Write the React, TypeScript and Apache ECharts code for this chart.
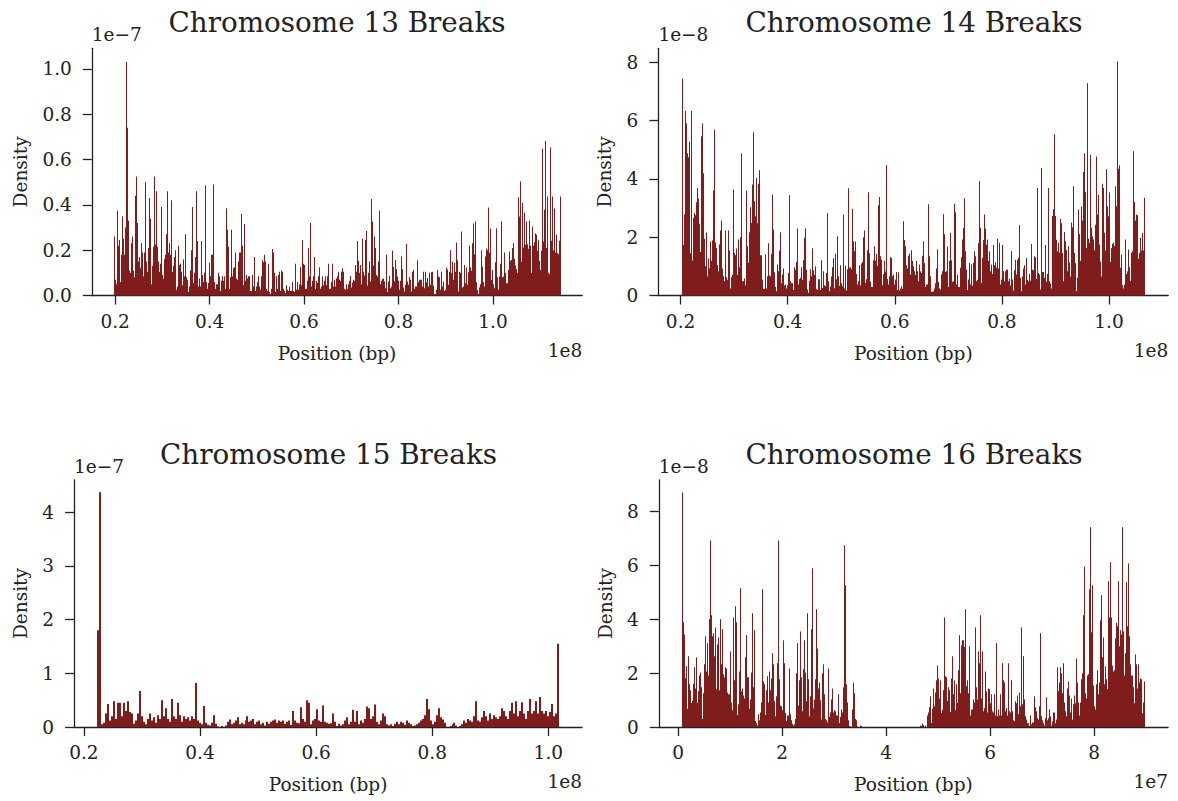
import React, { useEffect, useRef } from "react";
import * as echarts from "echarts";

// ---------------- data (positions in units of the x multiplier, densities in units of the y multiplier) ----------------
const titles = ["Chromosome 13 Breaks", "Chromosome 14 Breaks", "Chromosome 15 Breaks", "Chromosome 16 Breaks"];
const yMultiplierLabels = ["1e\u22127", "1e\u22128", "1e\u22127", "1e\u22128"];
const xMultiplierLabels = ["1e8", "1e8", "1e8", "1e7"];

const chr13Span = [0.1975, 1.1445]; // x 1e8 bp
const chr13Density = [ // x 1e-7
  0.26,0.07,0.05,0.375,0.22,0.245,0.06,0.18,0.35,0.25,0.18,0.3,1.03,0.74,0.33,0.11,0.10,0.23,0.26,0.11,
  0.08,0.44,0.525,0.32,0.15,0.17,0.12,0.23,0.19,0.085,0.19,0.5,0.15,0.105,0.21,0.43,0.34,0.05,0.13,0.215,
  0.525,0.225,0.46,0.215,0.15,0.105,0.14,0.39,0.09,0.075,0.16,0.18,0.27,0.46,0.19,0.23,0.18,0.42,0.105,0.13,
  0.17,0.2,0.025,0.04,0.22,0.135,0.14,0.105,0.045,0.16,0.085,0.27,0.08,0.07,0.015,0.04,0.11,0.2,0.39,0.055,
  0.1,0.17,0.46,0.24,0.04,0.075,0.04,0.24,0.09,0.06,0.1,0.485,0.06,0.03,0.055,0.145,0.085,0.18,0.18,0.49,
  0.06,0.03,0.05,0.1,0.085,0.02,0.065,0.085,0.065,0.085,0.03,0.385,0.29,0.215,0.03,0.08,0.29,0.085,0.12,0.125,
  0.19,0.075,0.07,0.15,0.19,0.19,0.36,0.22,0.045,0.315,0.065,0.09,0.075,0.085,0.085,0.02,0.02,0.09,0.04,0.17,
  0.02,0.04,0.06,0.085,0.04,0.025,0.085,0.155,0.147,0.18,0.15,0.03,0.02,0.14,0.015,0.007,0.03,0.205,0.19,0.1,
  0.015,0.085,0.03,0.09,0.105,0.02,0.11,0.105,0.03,0.02,0.01,0.045,0.025,0.02,0.04,0.02,0.02,0.06,0.02,0.015,
  0.14,0.025,0.06,0.025,0.05,0.125,0.045,0.245,0.14,0.135,0.03,0.03,0.065,0.21,0.085,0.32,0.04,0.065,0.085,0.17,
  0.03,0.065,0.055,0.085,0.125,0.03,0.04,0.085,0.045,0.065,0.085,0.045,0.085,0.14,0.03,0.03,0.06,0.14,0.04,0.07,
  0.04,0.075,0.085,0.105,0.07,
  0.065,0.105,0.12,0.105,0.03,0.025,0.05,0.03,0.05,0.065,0.087,0.035,0.057,0.07,0.065,0.135,0.105,0.24,0.153,0.1,
  0.135,0.05,0.25,0.105,0.088,0.245,0.285,0.044,0.1,0.15,0.062,0.426,0.326,0.132,0.26,0.21,0.09,0.084,0.15,0.375,
  0.05,0.065,0.074,0.074,0.062,0.032,0.18,0.015,0.062,0.087,0.032,0.04,0.197,0.126,0.062,0.157,0.116,0.084,0.065,0.025,
  0.065,0.172,0.116,0.035,0.018,0.047,0.228,0.062,0.047,0.082,0.07,0.018,0.105,0.113,0.03,0.04,0.04,0.155,0.059,0.07,
  0.07,0.04,0.105,0.032,0.105,0.059,0.077,0.04,0.1,0.047,0.103,0.105,0.043,0.007,0.007,0.025,0.112,0.084,0.08,0.025,
  0.105,0.04,0.062,0.02,0.025,0.124,0.115,0.047,0.105,0.2,0.1,0.15,0.07,0.143,0.105,0.234,0.155,0.018,0.105,0.1,
  0.282,0.035,0.04,0.135,0.054,0.124,0.047,0.103,0.22,0.124,0.109,0.23,0.318,0.182,0.326,0.059,0.024,0.007,0.035,0.05,
  0.2,0.128,0.059,0.04,0.172,0.207,0.2,0.388,0.187,0.296,0.068,0.113,0.05,0.032,0.147,0.297,0.08,0.025,0.084,0.14,
  0.326,0.08,0.084,0.19,0.1,0.054,0.054,0.113,0.194,0.153,0.157,0.209,0.232,0.162,0.132,0.116,0.1,0.432,0.348,0.503,
  0.15,0.409,0.212,0.365,0.224,0.326,0.226,0.206,0.331,0.22,0.1,0.304,0.22,0.235,0.275,0.268,0.197,0.244,0.153,0.113,
  0.197,0.647,0.238,0.378,0.682,0.209,0.437,0.1,0.094,0.653,0.241,0.437,0.2,0.384,0.19,0.268,0.187,0.182,0.241,0.437
];

const chr14Span = [0.2019, 1.0673]; // x 1e8 bp
const chr14Density = [ // x 1e-8
  7.44,1.73,2.78,6.34,5.9,4.88,4.74,5.27,1.45,6.34,1.2,2.66,2.83,2.75,3.2,3.69,3.33,2.46,1.49,5.46,
  5.9,4.19,1.95,1.0,2.16,0.66,1.27,0.93,1.85,1.18,1.89,3.6,5.69,1.82,1.63,1.04,0.83,1.75,2.23,2.57,
  0.93,0.66,0.49,2.23,0.63,0.54,2.23,1.54,0.24,0.63,0.7,3.63,1.46,1.38,1.61,0.7,1.92,0.97,2.0,4.87,
  0.49,0.49,0.58,0.35,3.6,1.69,1.12,2.17,3.03,2.49,3.81,5.6,3.23,2.72,4.03,2.48,3.83,4.3,1.38,1.38,
  0.54,0.23,0.23,1.41,0.24,0.66,1.79,0.69,0.66,1.43,3.46,2.26,0.8,0.29,0.15,1.06,0.83,1.54,2.17,0.42,
  0.72,0.93,0.34,0.38,0.24,0.35,0.77,3.44,0.49,0.42,0.42,0.19,0.97,0.88,1.15,2.3,0.38,0.57,0.61,0.97,
  0.54,1.21,1.98,2.31,0.88,0.21,0.09,0.51,0.9,0.66,1.62,0.87,0.7,1.0,0.23,0.19,0.56,0.56,0.19,1.21,
  0.26,0.83,0.35,0.32,0.77,2.82,0.49,0.15,0.31,0.65,0.97,1.28,0.25,1.43,0.56,2.03,0.66,0.33,1.04,0.42,
  0.32,2.78,0.24,1.03,0.17,0.9,3.68,0.95,0.97,0.9,2.98,1.86,1.52,1.85,0.74,0.38,0.49,1.04,0.34,1.1,
  1.15,2.0,2.23,0.43,0.56,1.55,3.54,1.45,0.47,0.29,0.29,1.21,1.69,1.18,1.42,1.02,3.1,3.38,1.35,1.23,
  0.35,0.73,1.19,0.82,4.47,0.57,0.38,0.66,1.31,1.29,0.66,0.72,0.38,0.55,0.81,0.19,0.8,0.17,0.24,0.32,
  0.23,2.55,1.9,1.69,1.04,0.93,1.36,1.44,0.72,1.55,1.18,1.0,0.83,
  0.7,1.18,0.83,0.49,1.06,0.83,0.77,1.36,1.86,1.11,0.29,0.38,0.38,3.13,1.35,0.66,0.13,0.13,0.15,0.24,
  0.42,0.93,1.59,0.46,0.24,0.21,0.72,0.83,2.79,2.1,0.81,0.83,1.68,0.29,1.18,2.15,1.21,0.47,0.49,3.15,
  2.86,0.38,0.72,0.29,0.29,0.95,1.31,1.92,2.31,3.34,1.52,0.89,0.19,0.55,1.12,0.38,1.06,0.33,1.12,1.52,
  1.35,0.49,0.54,1.79,3.92,2.32,0.43,1.29,1.9,2.78,2.3,1.74,1.92,1.18,1.51,0.83,1.06,0.74,1.73,1.04,
  1.14,0.95,1.95,0.93,1.81,0.38,0.55,1.73,0.83,0.49,0.83,0.88,0.89,0.49,0.58,0.34,1.52,0.55,0.17,0.87,
  1.23,0.72,1.23,1.29,2.41,0.61,0.15,0.65,0.93,1.04,0.38,1.29,0.54,0.47,0.74,0.51,1.77,0.88,0.87,1.35,
  1.31,0.57,3.69,0.77,0.72,0.21,4.37,0.81,0.81,0.61,1.73,0.47,0.74,3.69,0.49,0.41,0.24,2.73,2.96,5.53,
  2.73,1.91,1.52,1.81,1.47,2.63,2.48,1.46,0.49,2.18,1.86,1.55,0.83,1.69,1.13,0.65,2.5,2.34,3.75,1.46,
  1.11,0.15,0.61,2.95,2.11,1.18,3.05,2.57,4.24,4.88,3.55,1.63,7.28,1.95,1.81,4.83,2.32,2.03,1.92,1.55,
  2.43,4.77,2.78,3.46,1.75,1.17,0.65,3.83,3.69,2.15,1.54,4.33,3.05,2.72,3.54,1.15,1.63,1.77,1.82,1.69,
  3.75,3.06,8.03,4.35,4.47,0.95,1.41,0.35,0.24,0.38,1.92,0.74,0.83,1.58,0.97,0.51,1.47,1.52,4.95,3.21,
  2.57,2.78,2.75,1.26,1.46,1.98,1.54,2.14,1.54,3.35
];

const chr15Span = [0.223, 1.0184]; // x 1e8 bp
const chr15Density = [ // x 1e-7
  1.8,4.37,0.05,0.08,0.25,0.43,0.12,0.2,0.48,0.15,0.45,0.45,0.2,0.45,0.3,0.48,0.28,0.25,0.06,0.12,
  0.25,0.67,0.2,0.1,0.05,0.15,0.25,0.12,0.18,0.08,0.22,0.15,0.5,0.2,0.35,0.15,0.1,0.52,0.2,0.15,
  0.45,0.22,0.1,0.2,0.15,0.18,0.12,0.2,0.15,0.82,0.12,0.08,0.05,0.39,0.08,0.04,0.03,0.08,0.22,0.06,
  0.01,0,0.02,0,0.03,0.1,0.14,0.05,0.08,0.12,0.18,0.05,0.08,0.05,0.12,0.2,0.1,0.12,0.15,0.05,
  0.1,0.12,0.05,0.08,0.03,0.1,0.06,0.1,0.12,0.14,0.08,0.12,0.1,0.12,0.06,0.1,0.12,0.04,0.3,0.12,
  0.08,0.07,0.37,0.15,0.1,0.5,0.45,0.05,0.12,0.15,0.33,0.12,0.1,0.4,0.1,0.08,0.06,0.07,0.25,0.1,
  0.02,0.06,0.03,0.05,0.12,0.18,0.05,0.1,0.32,0.1,0.3,0.05,0.12,0.08,0.15,0.38,0.35,0.15,0.2,0.42,
  0.1,0.05,0.12,0.25,0.2,0.05,0.03,0.05,0.02,0.06,0.1,0.05,0.1,0.08,0.04,0.12,0.08,0.05,0.02,0.03,
  0.05,0.08,0.12,0.15,0.22,0.52,0.33,0.12,0.05,0.1,0.22,0.35,0.18,0.14,0.08,0,0,0.02,0.05,0.08,
  0.03,0,0.02,0.05,0.12,0.08,0.15,0.12,0.1,0.2,0.48,0.12,0.1,0.18,0.3,0.2,0.12,0.25,0.15,0.22,
  0.18,0.15,0.2,0.35,0.3,0.2,0.15,0.3,0.45,0.25,0.48,0.2,0.3,0.46,0.25,0.15,0.3,0.52,0.25,0.3,
  0.48,0.25,0.56,0.3,0.25,0.3,0.2,0.28,0.43,0.2,0.25,1.55
];

const chr16Span = [0.071, 8.975]; // x 1e7 bp
const chr16Density = [ // x 1e-8
  8.69,3.88,3.43,1.81,2.25,0.67,2.62,1.58,1.36,0.89,0.96,1.6,2.21,1.43,2.58,0.89,1.32,1.91,2.02,1.47,
  0.3,1.25,2.32,3.36,2.06,3.1,1.91,3.99,6.91,4.14,3.36,3.47,2.62,3.69,1.4,3.06,3.32,1.36,3.99,2.32,
  3.62,1.95,1.84,2.21,2.17,1.28,1.21,1.21,2.8,0.91,0.62,4.06,1.73,4.47,3.88,0.44,0.84,2.06,5.14,1.32,
  1.43,1.17,1.06,2.58,3.4,1.84,1.84,0.67,1.02,2.02,4.21,1.47,3.58,0.22,0.15,0.06,0.47,0.25,0.54,0.91,
  5.1,1.69,1.58,0.44,1.36,1.88,0.91,2.06,1.36,1.8,2.73,2.32,0.95,0.4,1.14,2.36,6.91,1.77,0.8,0.77,
  0.62,3.21,2.36,0.52,0.22,0.43,0.43,2.17,0.47,0.25,0.12,0.06,0.1,0.3,1.99,3.1,0.8,1.73,3.54,1.84,
  0.58,2.14,3.21,2.02,0.95,4.21,1.77,0.4,1.14,3.62,5.88,0.69,1.02,1.77,4.36,2.91,1.43,1.65,0.99,0.28,
  1.99,2.32,1.21,0.3,0.25,0.17,2.17,0.37,0.54,1.02,1.43,0.54,0.62,0.58,0.43,0.43,1.21,0.15,0.37,0.65,
  0.54,1.47,6.73,5.25,1.58,0.91,0.25,0.04,0.02,0,0.65,1.65,1.25,0.3,0.25,0.02,0,0,0.06,0.04,
  0,0,0,0,0,0,0,0,0,0,0,0,0,0,0,0,0,0,0,0,
  0,0,0,0,0,0,0,0,0,0,0,0,0,0,0,0,0,0,0,0,
  0,0,0,0,0,0,0,0,0,0,0,0,0,0,
  0,0,0,0,0,0.06,0.04,0.12,0.07,0,0.06,0,0.43,0.54,0.73,1.14,0.15,0.68,1.42,0.77,
  1.28,1.73,2.28,1.8,1.06,1.73,0.52,0.64,1.36,4.06,1.88,1.84,0.96,1.47,1.36,0.56,1.8,2.62,1.21,1.73,
  0.62,1.58,0.89,2.1,3.4,1.25,3.02,3.21,3.21,2.96,4.36,1.51,1.73,1.25,2.99,0.43,0.65,0.65,1.02,0.91,
  3.69,1.47,1.02,2.8,2.36,4.14,1.06,2.8,0.58,0.69,2.06,1.32,0.54,1.43,1.4,0.88,1.21,0.58,0.54,1.21,
  0.43,3.1,0.4,0.65,0.43,1.21,0.43,2.36,1.73,1.65,0.58,0.69,0.43,2.36,0.58,0.54,1.73,0.58,0.25,0.21,
  0.95,0.88,1.17,0.47,1.28,0.77,3.69,0.84,2.62,1.02,0.4,0.28,0.14,0.14,0.04,0.43,0.1,0.17,0.17,1.14,
  0.73,0.58,0.32,0.28,0.77,3.47,0.4,0.25,0.14,0.06,0.32,1.1,0.25,0.32,0.65,0.4,0.06,0.21,0.54,0.54,
  0.14,0.28,2.21,1.32,1.65,2.21,1.99,1.25,2.36,0.91,0.58,0.4,1.43,1.69,1.17,0.54,1.06,0.28,0.84,1.17,
  0.88,2.54,1.65,0.91,0.43,0.91,1.77,1.99,4.14,5.95,1.25,1.06,1.91,1.95,5.1,7.4,3.51,5.25,1.54,0.77,
  0.65,1.58,2.1,1.21,1.65,3.95,4.88,2.58,3.32,1.58,2.25,1.77,1.4,5.4,4.06,6.1,4.06,2.28,2.06,2.1,
  3.28,3.86,3.73,5.4,2.99,3.58,3.43,7.4,3.54,1.91,2.73,5.36,3.73,6.06,3.36,2.32,1.91,1.91,1.47,0.88,
  2.69,2.32,1.43,2.32,1.65,1.8,1.77,0.51,0.91,1.69
];

const xTicksFrac = [0.2, 0.4, 0.6, 0.8, 1.0];
const xTicks16 = [0, 2, 4, 6, 8];
const yTicks13 = [0, 0.2, 0.4, 0.6, 0.8, 1.0];
const yTicks14 = [0, 2, 4, 6, 8];
const yTicks15 = [0, 1, 2, 3, 4];
const yTicks16 = [0, 2, 4, 6, 8];

// ---------------- styling / layout ----------------
const BAR = "#7f1d1d";
const INK = "#222222";
const FONT = "'DejaVu Serif', 'Liberation Serif', serif";
const TICK_FS = 18.5;
const TITLE_FS = 27.8;

const panels = [
  { title: titles[0], span: chr13Span, values: chr13Density, xTicks: xTicksFrac, xDigits: 1, yTicks: yTicks13, yDigits: 1,
    left: 91.8, top: 48.3, width: 490.4, height: 247.2, xMin: 0.1505, xMax: 1.189, yMax: 1.0905, yNameGap: 62,
    titleX: 337, titleY: 22.5, yExpY: 34, xExpY: 350 },
  { title: titles[1], span: chr14Span, values: chr14Density, xTicks: xTicksFrac, xDigits: 1, yTicks: yTicks14, yDigits: 0,
    left: 658.4, top: 48.3, width: 509.8, height: 247.2, xMin: 0.1586, xMax: 1.1106, yMax: 8.48, yNameGap: 44,
    titleX: 914, titleY: 22.5, yExpY: 34, xExpY: 350 },
  { title: titles[2], span: chr15Span, values: chr15Density, xTicks: xTicksFrac, xDigits: 1, yTicks: yTicks15, yDigits: 0,
    left: 74.1, top: 480, width: 508, height: 247, xMin: 0.1832, xMax: 1.0582, yMax: 4.6, yNameGap: 44,
    titleX: 328.5, titleY: 454, yExpY: 466.5, xExpY: 781.5 },
  { title: titles[3], span: chr16Span, values: chr16Density, xTicks: xTicks16, xDigits: 0, yTicks: yTicks16, yDigits: 0,
    left: 658.8, top: 480, width: 509.3, height: 247, xMin: -0.374, xMax: 9.42, yMax: 9.15, yNameGap: 44,
    titleX: 914, titleY: 454, yExpY: 466.5, xExpY: 781.5 },
];

function buildOption() {
  const grid: any[] = [];
  const xAxis: any[] = [];
  const yAxis: any[] = [];
  const series: any[] = [];
  const graphic: any[] = [];

  panels.forEach((p, i) => {
    grid.push({ left: p.left, top: p.top, width: p.width, height: p.height, containLabel: false });
    const lineStyle = { color: INK, width: 1.3 };
    const labelStyle = { fontFamily: FONT, fontSize: TICK_FS, color: INK };
    xAxis.push({
      gridIndex: i, type: "value", min: p.xMin, max: p.xMax,
      axisLine: { show: true, onZero: false, lineStyle },
      axisTick: { show: true, inside: false, length: 9, lineStyle, customValues: p.xTicks },
      axisLabel: { ...labelStyle, margin: 16, customValues: p.xTicks, formatter: (v: number) => v.toFixed(p.xDigits) },
      splitLine: { show: false },
      name: "Position (bp)", nameLocation: "middle", nameGap: 48,
      nameTextStyle: { fontFamily: FONT, fontSize: TICK_FS, color: INK },
    });
    yAxis.push({
      gridIndex: i, type: "value", min: 0, max: p.yMax,
      axisLine: { show: true, onZero: false, lineStyle },
      axisTick: { show: true, inside: false, length: 9, lineStyle, customValues: p.yTicks },
      axisLabel: { ...labelStyle, margin: 20, customValues: p.yTicks, formatter: (v: number) => v.toFixed(p.yDigits) },
      splitLine: { show: false },
      name: "Density", nameLocation: "middle", nameRotate: 90, nameGap: p.yNameGap,
      nameTextStyle: { fontFamily: FONT, fontSize: TICK_FS, color: INK },
    });
    const n = p.values.length;
    const w = (p.span[1] - p.span[0]) / n;
    const data = p.values.map((v, k) => [p.span[0] + k * w, p.span[0] + (k + 1) * w, v]);
    series.push({
      type: "custom", xAxisIndex: i, yAxisIndex: i, silent: true, clip: false,
      dimensions: ["x0", "x1", "density"],
      encode: { x: [0, 1], y: 2 },
      data,
      renderItem: (_params: any, api: any) => {
        const val = api.value(2);
        if (!(val > 0)) return null;
        const a = api.coord([api.value(0), val]);
        const b = api.coord([api.value(1), 0]);
        // snap to whole pixels so neighbouring bins share edges without anti-aliased seams
        const x0 = Math.round(a[0]);
        const x1 = Math.max(Math.round(b[0]), x0 + 1);
        return {
          type: "rect",
          shape: { x: x0, y: a[1], width: x1 - x0, height: b[1] - a[1] },
          style: { fill: BAR },
        };
      },
    });
    graphic.push({
      type: "text", x: p.titleX, y: p.titleY, silent: true,
      style: { text: p.title, fontFamily: FONT, fontSize: TITLE_FS, fill: INK, align: "center", verticalAlign: "middle", textAlign: "center", textVerticalAlign: "middle" },
    });
    graphic.push({
      type: "text", x: p.left, y: p.yExpY, silent: true,
      style: { text: yMultiplierLabels[i], fontFamily: FONT, fontSize: TICK_FS, fill: INK, align: "left", verticalAlign: "middle", textAlign: "left", textVerticalAlign: "middle" },
    });
    graphic.push({
      type: "text", x: p.left + p.width, y: p.xExpY, silent: true,
      style: { text: xMultiplierLabels[i], fontFamily: FONT, fontSize: TICK_FS, fill: INK, align: "right", verticalAlign: "middle", textAlign: "right", textVerticalAlign: "middle" },
    });
  });

  return { animation: false, backgroundColor: "#ffffff", grid, xAxis, yAxis, series, graphic };
}

export default function App() {
  const ref = useRef<HTMLDivElement>(null);
  useEffect(() => {
    if (!ref.current) return;
    const chart = echarts.init(ref.current, undefined, { renderer: "svg" });
    chart.setOption(buildOption() as any);
    return () => chart.dispose();
  }, []);
  return (
    <div
      ref={ref}
      style={{ position: "fixed", left: 0, top: 0, width: 1178, height: 801, background: "#fff" }}
    />
  );
}
